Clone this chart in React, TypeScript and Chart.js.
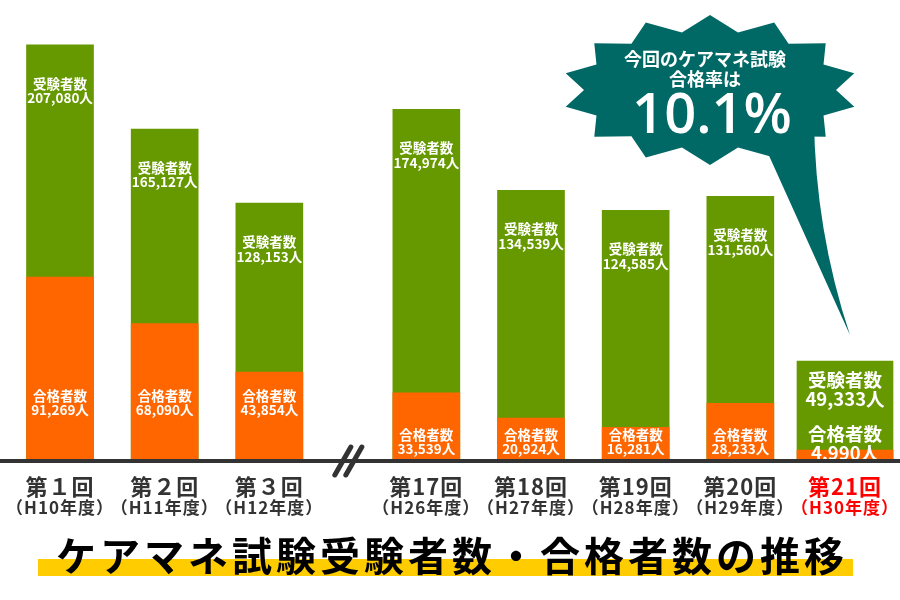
import React, { useEffect, useRef } from "react";
import { Chart, registerables } from "chart.js";

Chart.register(...registerables);

// ---- data ----
const rounds = ["第１回", "第２回", "第３回", "第17回", "第18回", "第19回", "第20回", "第21回"];
const years = ["（H10年度）", "（H11年度）", "（H12年度）", "（H26年度）", "（H27年度）", "（H28年度）", "（H29年度）", "（H30年度）"];
// slot on the broken axis (gap between 第３回 and 第17回)
const slots = [0, 1, 2, 3.5, 4.5, 5.5, 6.5, 7.5];
const examinees = [207080, 165127, 128153, 174974, 134539, 124585, 131560, 49333];
const passers = [91269, 68090, 43854, 33539, 20924, 16281, 28233, 4990];
const passRateLabel = "10.1%";
const bubbleLines = ["今回のケアマネ試験", "合格率は"];
const title = "ケアマネ試験受験者数・合格者数の推移";

const GREEN = "#669900";
const ORANGE = "#ff6600";
const TEAL = "#006966";
const DARK = "#333333";
const FONT = "'Noto Sans CJK JP', 'Noto Sans', sans-serif";

const fmt = (n: number) => n.toLocaleString("en-US") + "人";
const pts = (vals: number[], from: number, to: number) =>
  slots.slice(from, to).map((x, i) => ({ x, y: vals[from + i] }));

const decorPlugin = {
  id: "decor",
  afterDatasetsDraw(chart: any) {
    const ctx: any = chart.ctx;
    const xs = chart.scales.x;
    const ys = chart.scales.y;
    const base = ys.getPixelForValue(0);
    ctx.save();
    ctx.textAlign = "center";
    ctx.textBaseline = "middle";
    ctx.fillStyle = "#ffffff";

    // bar labels
    chart.data.datasets.forEach((ds: any, di: number) => {
      const meta = chart.getDatasetMeta(di);
      meta.data.forEach((el: any, j: number) => {
        const idx = ds.startIndex + j;
        const big = ds.big;
        const fs = big ? 18.5 : 13.5;
        const lh = big ? 19 : 14.5;
        ctx.font = `bold ${fs}px ${FONT}`;
        let cy: number;
        let head: string;
        let value: number;
        if (ds.kind === "total") {
          head = "受験者数";
          value = examinees[idx];
          cy = big ? el.y + 28 : el.y + 46;
        } else {
          head = "合格者数";
          value = passers[idx];
          const h = base - el.y;
          cy = big ? base - 17 : h > 80 ? base - 57 : base - 18;
        }
        ctx.fillText(head, el.x, cy - lh / 2);
        ctx.fillText(fmt(value), el.x, cy + lh / 2);
      });
    });

    // axis line
    ctx.fillStyle = DARK;
    ctx.fillRect(0, base - 1, chart.width, 4);

    // break mark
    ctx.strokeStyle = DARK;
    ctx.lineWidth = 5;
    ctx.lineCap = "round";
    const bx = xs.getPixelForValue((slots[2] + slots[3]) / 2) - 5;
    [0, 11].forEach((dx) => {
      ctx.beginPath();
      ctx.moveTo(bx + dx + 8, base - 13);
      ctx.lineTo(bx + dx - 8, base + 15);
      ctx.stroke();
    });

    // x labels
    rounds.forEach((r, i) => {
      const x = xs.getPixelForValue(slots[i]);
      const last = i === rounds.length - 1;
      ctx.fillStyle = last ? "#ff0000" : DARK;
      ctx.letterSpacing = "1px";
      ctx.font = `bold 22px ${FONT}`;
      ctx.fillText(r, x, base + 27);
      ctx.font = `bold 17px ${FONT}`;
      ctx.fillText(years[i], x, base + 48);
      ctx.letterSpacing = "0px";
    });

    // title band + title
    ctx.fillStyle = "#ffcc00";
    ctx.fillRect(38, 559, 815, 17);
    ctx.fillStyle = "#000000";
    ctx.font = `bold 40px ${FONT}`;
    const adv = 44;
    const start = 450 - (title.length * adv) / 2;
    Array.from(title).forEach((ch, i) => {
      ctx.fillText(ch, start + adv / 2 + i * adv, 556);
    });

    // speech bubble
    const cx = 710, cy = 90;
    ctx.fillStyle = TEAL;
    ctx.beginPath();
    ctx.moveTo(752, 118);
    ctx.lineTo(xs.getPixelForValue(slots[7]) + 5, ys.getPixelForValue(examinees[7]) - 26);
    ctx.quadraticCurveTo(815, 230, 814, 118);
    ctx.closePath();
    ctx.fill();
    const n = 14;
    ctx.beginPath();
    for (let k = 0; k < 2 * n; k++) {
      const a = -Math.PI / 2 + (k * Math.PI) / n;
      const outer = k % 2 === 0;
      const rx = outer ? 148 : 126;
      const ry = outer ? 75 : 59;
      const px = cx + rx * Math.cos(a);
      const py = cy + ry * Math.sin(a);
      if (k === 0) ctx.moveTo(px, py);
      else ctx.lineTo(px, py);
    }
    ctx.closePath();
    ctx.fill();
    ctx.fillStyle = "#ffffff";
    ctx.font = `bold 18px ${FONT}`;
    ctx.fillText(bubbleLines[0], 705, 59);
    ctx.fillText(bubbleLines[1], 705, 79);
    ctx.font = `600 56px 'Open Sans', 'Noto Sans', sans-serif`;
    ctx.fillText(passRateLabel, 712, 117);

    ctx.restore();
  },
};

export default function App() {
  const ref = useRef<HTMLCanvasElement | null>(null);
  useEffect(() => {
    if (!ref.current) return;
    const last = slots.length - 1;
    const chart = new Chart(ref.current, {
      type: "bar",
      data: {
        datasets: [
          { label: "合格者数", kind: "pass", startIndex: 0, big: false, data: pts(passers, 0, last), backgroundColor: ORANGE, barThickness: 67, grouped: false } as any,
          { label: "合格者数", kind: "pass", startIndex: last, big: true, data: pts(passers, last, last + 1), backgroundColor: ORANGE, barThickness: 96, grouped: false } as any,
          { label: "受験者数", kind: "total", startIndex: 0, big: false, data: pts(examinees, 0, last), backgroundColor: GREEN, barThickness: 67, grouped: false } as any,
          { label: "受験者数", kind: "total", startIndex: last, big: true, data: pts(examinees, last, last + 1), backgroundColor: GREEN, barThickness: 96, grouped: false } as any,
        ],
      },
      options: {
        responsive: false,
        animation: false,
        layout: { padding: { top: 0, left: 0, right: 0, bottom: 140 } },
        scales: {
          x: { type: "linear", min: -0.5733, max: 8.0255, offset: false, display: false },
          y: { min: 0, max: 229500, display: false },
        },
        plugins: { legend: { display: false }, tooltip: { enabled: false } },
      },
      plugins: [decorPlugin],
    });
    return () => chart.destroy();
  }, []);
  return (
    <div style={{ position: "fixed", left: 0, top: 0, width: 900, height: 600, background: "#fff" }}>
      <canvas ref={ref} width={900} height={600} />
    </div>
  );
}
